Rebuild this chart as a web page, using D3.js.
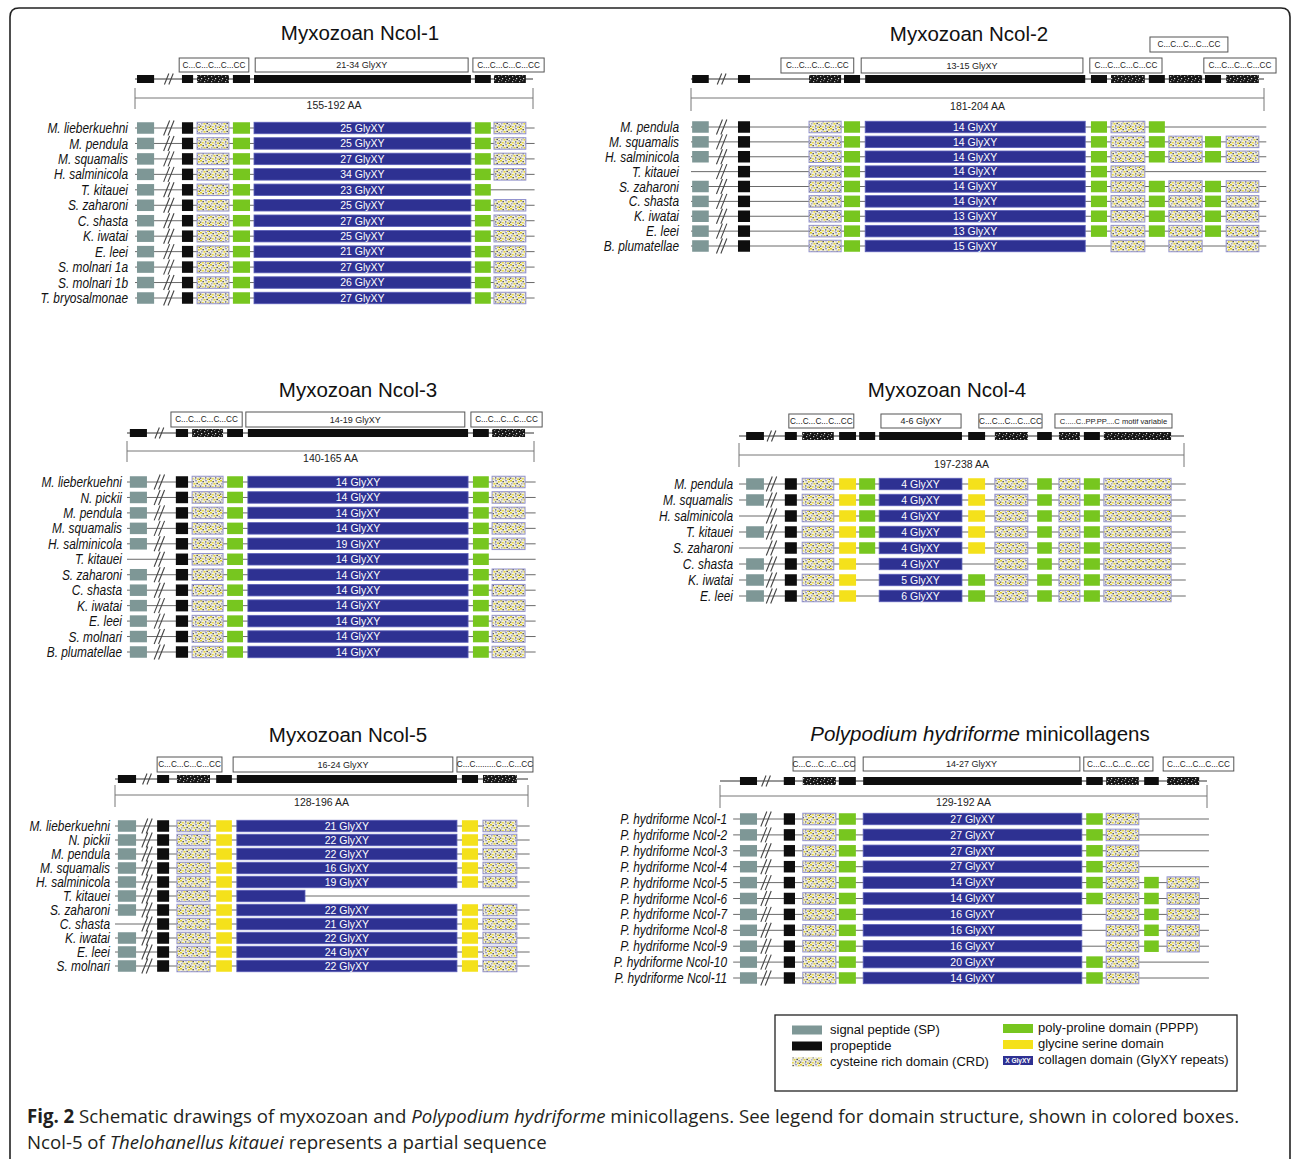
<!DOCTYPE html>
<html><head><meta charset="utf-8">
<script src="https://cdn.jsdelivr.net/npm/d3@7"></script>
<style>body{margin:0;background:#fff} svg{display:block}</style>
</head><body>
<svg id="c" width="1292" height="1159"></svg>
<script>
// ================= DATA =================
// Domain codes: S signal peptide, B sequence break (//), P propeptide, C cysteine rich domain,
// G poly-proline domain, Y glycine serine domain, X collagen domain (GlyXY), "." absent
// Domain bounds: relative position along the protein, in % of the full length

// ---- Myxozoan Ncol-1
const ncol1Title = "Myxozoan Ncol-1";
const ncol1Range = "155-192 AA";
const ncol1Species = ["M. lieberkuehni","M. pendula","M. squamalis","H. salminicola","T. kitauei","S. zaharoni","C. shasta","K. iwatai","E. leei","S. molnari 1a","S. molnari 1b","T. bryosalmonae"];
const ncol1GlyXY = [25,25,27,34,23,25,27,25,21,27,26,27];
const ncol1Domains = ["SBPCGXGC","SBPCGXGC","SBPCGXGC","SBPCGXGC","SBPCGXG.","SBPCGXGC","SBPCGXGC","SBPCGXGC","SBPCGXGC","SBPCGXGC","SBPCGXGC","SBPCGXGC"];
const ncol1Consensus = "SBPCGXGC";
const ncol1Bounds = [[0.5,4.8],[7.5,9.5],[11.8,14.6],[15.6,23.6],[24.6,28.9],[29.9,84.4],[85.4,89.4],[90.2,98.2]];
const ncol1BoxLabels = ["C...C...C...C...CC","21-34 GlyXY","C...C...C...C...CC"];
const ncol1Boxes = [[11.1,28.6,0],[30.2,83.7,0],[84.9,102.8,0]];

// ---- Myxozoan Ncol-2
const ncol2Title = "Myxozoan Ncol-2";
const ncol2Range = "181-204 AA";
const ncol2Species = ["M. pendula","M. squamalis","H. salminicola","T. kitauei","S. zaharoni","C. shasta","K. iwatai","E. leei","B. plumatellae"];
const ncol2GlyXY = [14,14,14,14,14,14,13,13,15];
const ncol2Domains = ["SBPCGXGCG...","SBPCGXGCGCGC","SBPCGXGCGCGC",".BPCGXGC....","SBPCGXGCGCGC","SBPCGXGCGCGC","SBPCGXGCGCGC","SBPCGXGCGCGC","SBPCGX.C.C.C"];
const ncol2Consensus = "SBPCGXGCGCGC";
const ncol2Bounds = [[0.2,3.1],[4.4,6.3],[8.2,10.3],[20.6,26.2],[26.7,29.5],[30.4,68.8],[69.8,72.6],[73.3,79.2],[79.9,82.7],[83.4,89.2],[89.7,92.5],[93.4,99.1]];
const ncol2BoxLabels = ["C...C...C...C...CC","13-15 GlyXY","C...C...C...C...CC","C...C...C...C...CC","C...C...C...C...CC"];
const ncol2Boxes = [[15.7,28.4,0],[29.7,68.4,0],[69.6,82.2,0],[80.1,93.7,1],[89.5,102.1,0]];

// ---- Myxozoan Ncol-3
const ncol3Title = "Myxozoan Ncol-3";
const ncol3Range = "140-165 AA";
const ncol3Species = ["M. lieberkuehni","N. pickii","M. pendula","M. squamalis","H. salminicola","T. kitauei","S. zaharoni","C. shasta","K. iwatai","E. leei","S. molnari","B. plumatellae"];
const ncol3GlyXY = [14,14,14,14,19,14,14,14,14,14,14,14];
const ncol3Domains = ["SBPCGXGC","SBPCGXGC","SBPCGXGC","SBPCGXGC","SBPCGXGC",".BPCGXG.","SBPCGXGC","SBPCGXGC","SBPCGXGC","SBPCGXGC","SBPCGXGC","SBPCGXGC"];
const ncol3Consensus = "SBPCGXGC";
const ncol3Bounds = [[0.7,4.9],[7.1,8.8],[12.0,15.0],[16.0,23.6],[24.6,28.5],[29.7,83.8],[85.0,88.9],[89.7,97.8]];
const ncol3BoxLabels = ["C...C...C...C...CC","14-19 GlyXY","C...C...C...C...CC"];
const ncol3Boxes = [[10.8,28.3,0],[29.2,83.0,0],[84.5,102.0,0]];

// ---- Myxozoan Ncol-4
const ncol4Title = "Myxozoan Ncol-4";
const ncol4Range = "197-238 AA";
const ncol4Species = ["M. pendula","M. squamalis","H. salminicola","T. kitauei","S. zaharoni","C. shasta","K. iwatai","E. leei"];
const ncol4GlyXY = [4,4,4,4,4,4,5,6];
const ncol4Domains = ["SBPCYGXYCGCGC","SBPCYGXYCGCGC",".BPCYGXYCGCGC","SBPCYGXYCGCGC",".BPCYGXYCGCGC","SBPCY.X.CGCGC","SBPCY.XGCGCGC","SBPCY.XGCGCGC"];
const ncol4Consensus = "SBPCYGXYCGCGC";
const ncol4Bounds = [[1.6,5.6],[6.5,8.1],[10.3,13.0],[14.2,21.3],[22.5,26.3],[27.0,30.6],[31.5,50.1],[51.5,55.3],[57.5,64.9],[67.0,70.3],[71.9,76.6],[77.5,81.1],[82.0,97.1]];
const ncol4BoxLabels = ["C...C...C...C...CC","4-6 GlyXY","C...C...C...C...CC","C.....C..PP.PP....C motif variable"];
const ncol4Boxes = [[11.2,25.8,0],[31.9,49.9,0],[53.9,68.1,0],[71.0,97.3,0]];

// ---- Myxozoan Ncol-5
const ncol5Title = "Myxozoan Ncol-5";
const ncol5Range = "128-196 AA";
const ncol5Species = ["M. lieberkuehni","N. pickii","M. pendula","M. squamalis","H. salminicola","T. kitauei","S. zaharoni","C. shasta","K. iwatai","E. leei","S. molnari"];
const ncol5GlyXY = [21,22,22,16,19,null,22,21,22,24,22];
const ncol5Domains = ["SBPCYX.YC","SBPCYX.YC","SBPCYX.YC","SBPCYX.YC","SBPCYX.YC","SBPCY.X..","SBPCYX.YC",".BPCYX.YC","SBPCYX.YC","SBPCYX.YC","SBPCYX.YC"];
const ncol5Consensus = "SBPCYX.YC";
const ncol5Bounds = [[0.7,5.1],[6.8,8.7],[10.2,13.1],[15.0,23.0],[24.5,28.3],[29.5,82.8],[29.5,46.0],[84.0,87.9],[89.1,97.3]];
const ncol5BoxLabels = ["C...C...C...C...CC","16-24 GlyXY","C...C.........C...C...CC"];
const ncol5Boxes = [[10.2,25.9,0],[28.6,81.8,0],[82.8,101.2,0]];

// ---- Polypodium hydriforme minicollagens
const phyTitle = ["Polypodium hydriforme"," minicollagens"];
const phyRange = "129-192 AA";
const phySpecies = ["P. hydriforme Ncol-1","P. hydriforme Ncol-2","P. hydriforme Ncol-3","P. hydriforme Ncol-4","P. hydriforme Ncol-5","P. hydriforme Ncol-6","P. hydriforme Ncol-7","P. hydriforme Ncol-8","P. hydriforme Ncol-9","P. hydriforme Ncol-10","P. hydriforme Ncol-11"];
const phyGlyXY = [27,27,27,27,14,14,16,16,16,20,14];
const phyDomains = ["SBPCGXGC..","SBPCGXGC..","SBPCGXGC..","SBPCGXGC..","SBPCGXGCGC","SBPCGXGCGC","SBPCGX.CGC","SBPCGX.CGC","SBPCGX.CGC","SBPCGXGC..","SBPCGXGC.."];
const phyConsensus = "SBPCGXGCGC";
const phyBounds = [[4.1,7.6],[8.8,10.1],[13.1,15.4],[17.0,23.8],[24.4,27.9],[29.4,74.3],[75.2,78.6],[79.3,86.0],[87.1,90.1],[91.8,98.4]];
const phyBoxLabels = ["C...C...C...C...CC","14-27 GlyXY","C...C...C...C...CC","C...C...C...C...CC"];
const phyBoxes = [[15.0,27.7,0],[29.4,73.9,0],[74.7,88.9,0],[91.0,105.5,0]];

// ---- Legend
const legendLabels = ["signal peptide (SP)","propeptide","cysteine rich domain (CRD)","poly-proline domain (PPPP)","glycine serine domain","collagen domain (GlyXY repeats)"];
const legendCodes = ["S","P","C","G","Y","X"];

// ---- Caption
const captionLine1 = [["Fig. 2","bold"],[" Schematic drawings of myxozoan and ","normal"],["Polypodium hydriforme","italic"],[" minicollagens. See legend for domain structure, shown in colored boxes.","normal"]];
const captionLine2 = [["Ncol-5 of ","normal"],["Thelohanellus kitauei","italic"],[" represents a partial sequence","normal"]];

// ================= STYLE / LAYOUT =================
const COLORS = {S:"#7e9796", P:"#0e0e0e", G:"#77c61f", Y:"#f4e11b", X:"#2e3192"};
const FONT = "'Liberation Sans', Arial, sans-serif";

const layouts = [
  {x0:135,x1:533,titleX:360,titleY:33,boxY:[58,0],boxH:14,consY:79,barY:98,tickT:88,tickB:109,labelY:105,rowY0:128,rowY1:298,nameX:128,lineStart:0},
  {x0:691,x1:1264,titleX:969,titleY:34,boxY:[58,37],boxH:15,consY:79,barY:98,tickT:88,tickB:111,labelY:106,rowY0:127,rowY1:246,nameX:679,lineStart:0},
  {x0:127,x1:534,titleX:358,titleY:390,boxY:[412,0],boxH:15,consY:433,barY:451,tickT:441,tickB:462,labelY:458,rowY0:482,rowY1:652,nameX:122,lineStart:0},
  {x0:739,x1:1184,titleX:947,titleY:390,boxY:[414,0],boxH:14,consY:436,barY:455,tickT:443,tickB:467,labelY:464,rowY0:484,rowY1:596,nameX:733,lineStart:0},
  {x0:115,x1:528,titleX:348,titleY:735,boxY:[757,0],boxH:15,consY:779,barY:795,tickT:785,tickB:807,labelY:802,rowY0:826,rowY1:966,nameX:110,lineStart:0},
  {x0:720,x1:1207,titleX:980,titleY:734,boxY:[757,0],boxH:14,consY:781,barY:796,tickT:785,tickB:808,labelY:802,rowY0:819,rowY1:978,nameX:727,lineStart:2.7}
];

const panels = [
  {title:[ncol1Title], range:ncol1Range, species:ncol1Species, glyxy:ncol1GlyXY, domains:ncol1Domains, consensus:ncol1Consensus, bounds:ncol1Bounds, boxLabels:ncol1BoxLabels, boxes:ncol1Boxes},
  {title:[ncol2Title], range:ncol2Range, species:ncol2Species, glyxy:ncol2GlyXY, domains:ncol2Domains, consensus:ncol2Consensus, bounds:ncol2Bounds, boxLabels:ncol2BoxLabels, boxes:ncol2Boxes},
  {title:[ncol3Title], range:ncol3Range, species:ncol3Species, glyxy:ncol3GlyXY, domains:ncol3Domains, consensus:ncol3Consensus, bounds:ncol3Bounds, boxLabels:ncol3BoxLabels, boxes:ncol3Boxes},
  {title:[ncol4Title], range:ncol4Range, species:ncol4Species, glyxy:ncol4GlyXY, domains:ncol4Domains, consensus:ncol4Consensus, bounds:ncol4Bounds, boxLabels:ncol4BoxLabels, boxes:ncol4Boxes},
  {title:[ncol5Title], range:ncol5Range, species:ncol5Species, glyxy:ncol5GlyXY, domains:ncol5Domains, consensus:ncol5Consensus, bounds:ncol5Bounds, boxLabels:ncol5BoxLabels, boxes:ncol5Boxes},
  {title:phyTitle, italicFirst:true, range:phyRange, species:phySpecies, glyxy:phyGlyXY, domains:phyDomains, consensus:phyConsensus, bounds:phyBounds, boxLabels:phyBoxLabels, boxes:phyBoxes}
];

// ================= DRAW =================
const svg = d3.select("#c");
svg.append("rect").attr("width",1292).attr("height",1159).attr("fill","#fff");
const defs = svg.append("defs");

// CRD speckle texture
const crd = defs.append("pattern").attr("id","crd").attr("patternUnits","userSpaceOnUse").attr("width",10).attr("height",8);
crd.append("rect").attr("width",10).attr("height",8).attr("fill","#f1efdc");
[[0,0,"#e0cc2a",2,1.5],[2.5,1,"#3c3c3c",1.3,1.3],[5,0,"#9d9dc0",2,1.3],[8,1,"#e3d23a",1.6,1.6],
 [1,3,"#a8a8c2",1.5,1.5],[3.5,3,"#e4d440",2,1.6],[6.5,2.8,"#2f2f2f",1.3,1.3],[8.5,4,"#8f8fb3",1.4,1.4],
 [0,5.5,"#555",1.3,1.3],[2,6,"#e8d94e",1.8,1.5],[5,5.2,"#6a6a84",1.4,1.4],[7,6.5,"#dccb2e",2,1.3],
 [4.5,7,"#b4b4cc",1.2,1],[9,6.8,"#3d3d3d",1,1]]
  .forEach(d => crd.append("rect").attr("x",d[0]).attr("y",d[1]).attr("width",d[3]).attr("height",d[4]).attr("fill",d[2]));
// dark CRD texture (consensus)
const dk = defs.append("pattern").attr("id","crdDark").attr("patternUnits","userSpaceOnUse").attr("width",7).attr("height",5);
dk.append("rect").attr("width",7).attr("height",5).attr("fill","#161616");
[[1,1,"#bbb"],[4,0,"#777"],[5,3,"#ddd"],[2,4,"#888"]]
  .forEach(d => dk.append("rect").attr("x",d[0]).attr("y",d[1]).attr("width",1.2).attr("height",1.2).attr("fill",d[2]));

// frame
svg.append("path")
  .attr("d","M10,1159 L10,17 Q10,8 19,8 L1281,8 Q1290,8 1290,17 L1290,1159")
  .attr("fill","none").attr("stroke","#222").attr("stroke-width",1.6);

function drawBreak(g, cx, cy, h) {
  [-2.2, 2.2].forEach(off => {
    g.append("line")
      .attr("x1", cx + off - h*0.2).attr("y1", cy + h/2)
      .attr("x2", cx + off + h*0.2).attr("y2", cy - h/2)
      .attr("stroke","#444").attr("stroke-width",1.1);
  });
}

function drawDomain(g, code, xa, xb, cy, h, consensus) {
  if (code === ".") return;
  if (code === "B") { drawBreak(g, (xa+xb)/2, cy, consensus ? 11 : 15); return; }
  const r = g.append("rect").attr("x",xa).attr("y",cy-h/2).attr("width",xb-xa).attr("height",h);
  if (consensus) {
    r.attr("fill", code === "C" ? "url(#crdDark)" : "#0e0e0e");
  } else if (code === "C") {
    r.attr("fill","url(#crd)").attr("stroke","#9393cf").attr("stroke-width",1);
  } else if (code === "X") {
    r.attr("fill",COLORS.X).attr("stroke","#5b5fb8").attr("stroke-width",0.8);
  } else {
    r.attr("fill",COLORS[code]);
  }
}

panels.forEach((p, pi) => {
  const L = layouts[pi];
  const g = svg.append("g");
  const x = d3.scaleLinear().domain([0,100]).range([L.x0, L.x1]);
  const y = d3.scalePoint().domain(d3.range(p.species.length)).range([L.rowY0, L.rowY1]);

  // title
  const t = g.append("text").attr("x",L.titleX).attr("y",L.titleY).attr("dy","0.36em")
    .attr("text-anchor","middle").attr("font-family",FONT).attr("font-size",20.5).attr("fill","#111");
  p.title.forEach((s,i) => t.append("tspan").text(s).attr("font-style", (p.italicFirst && i===0) ? "italic" : "normal"));

  // header boxes
  p.boxes.forEach((b,i) => {
    const by = L.boxY[b[2]];
    g.append("rect").attr("x",x(b[0])).attr("y",by).attr("width",x(b[1])-x(b[0])).attr("height",L.boxH)
      .attr("fill","#fff").attr("stroke","#555").attr("stroke-width",1);
    const lbl = p.boxLabels[i];
    g.append("text").attr("x",(x(b[0])+x(b[1]))/2).attr("y",by+L.boxH/2).attr("dy","0.35em")
      .attr("text-anchor","middle").attr("font-family",FONT)
      .attr("font-size", lbl.includes("GlyXY") ? 9 : (lbl.length > 24 ? 7.6 : 8.2)).attr("fill","#222").text(lbl);
  });

  // consensus schematic
  g.append("line").attr("x1",x(0)).attr("x2",x(100)).attr("y1",L.consY).attr("y2",L.consY).attr("stroke","#333").attr("stroke-width",1);
  p.consensus.split("").forEach((c,i) => drawDomain(g, c, x(p.bounds[i][0]), x(p.bounds[i][1]), L.consY, 8, true));

  // length bar
  g.append("line").attr("x1",x(0)).attr("x2",x(100)).attr("y1",L.barY).attr("y2",L.barY).attr("stroke","#777").attr("stroke-width",1);
  [0,100].forEach(v => g.append("line").attr("x1",x(v)).attr("x2",x(v)).attr("y1",L.tickT).attr("y2",L.tickB).attr("stroke","#777").attr("stroke-width",1));
  g.append("text").attr("x",(x(0)+x(100))/2).attr("y",L.labelY).attr("dy","0.35em").attr("text-anchor","middle")
    .attr("font-family",FONT).attr("font-size",10.5).attr("fill","#222").text(p.range);

  // rows
  p.species.forEach((name, ri) => {
    const cy = y(ri);
    g.append("line").attr("x1",x(L.lineStart)).attr("x2",x(100.4)).attr("y1",cy).attr("y2",cy).attr("stroke","#6a6a6a").attr("stroke-width",1);
    g.append("text").attr("transform",`translate(${L.nameX},${cy}) scale(0.82,1)`).attr("dy","0.35em")
      .attr("text-anchor","end").attr("font-family",FONT).attr("font-style","italic").attr("font-size",14.5).attr("fill","#111").text(name);
    const codes = p.domains[ri].split("");
    codes.forEach((c,i) => { if (c !== "B") drawDomain(g, c, x(p.bounds[i][0]), x(p.bounds[i][1]), cy, 11.5, false); });
    codes.forEach((c,i) => { if (c === "B") drawDomain(g, c, x(p.bounds[i][0]), x(p.bounds[i][1]), cy, 11.5, false); });
    const xi = codes.indexOf("X");
    if (xi >= 0 && p.glyxy[ri] != null) {
      g.append("text").attr("x",(x(p.bounds[xi][0])+x(p.bounds[xi][1]))/2).attr("y",cy).attr("dy","0.36em")
        .attr("text-anchor","middle").attr("font-family",FONT).attr("font-size",10.5).attr("fill","#fff")
        .text(p.glyxy[ri] + " GlyXY");
    }
  });
});

// legend
const lg = svg.append("g");
lg.append("rect").attr("x",775).attr("y",1015).attr("width",462).attr("height",76).attr("fill","#fff").attr("stroke","#222").attr("stroke-width",1.3);
const legCol = d3.scalePoint().domain([0,1]).range([792,1003]);
const legRow = d3.scalePoint().domain([0,1,2]).range([1030,1062]);
legendLabels.forEach((lab,i) => {
  const col = Math.floor(i/3), row = i%3;
  const sx = legCol(col), cy = legRow(row) - (col===1 ? 1.5 : 0);
  const code = legendCodes[i];
  const r = lg.append("rect").attr("x",sx).attr("y",cy-4.5).attr("width",30).attr("height",9);
  if (code === "C") r.attr("fill","url(#crd)");
  else r.attr("fill",COLORS[code]);
  if (code === "X") {
    lg.append("text").attr("x",sx+15).attr("y",cy).attr("dy","0.35em").attr("text-anchor","middle")
      .attr("font-family",FONT).attr("font-weight","bold").attr("font-size",6.5).attr("fill","#fff").text("X GlyXY");
  }
  lg.append("text").attr("x",sx+(col===0?38:35)).attr("y",cy-1).attr("dy","0.35em").attr("font-family",FONT)
    .attr("font-size",13).attr("fill","#111").text(lab);
});

// caption
const capFont = "'Open Sans', 'Noto Sans', sans-serif";
function capLine(parts, yy) {
  const t = svg.append("text").attr("x",0).attr("y",0).attr("font-family",capFont).attr("font-size",19).attr("fill","#231f20");
  parts.forEach(pt => {
    const ts = t.append("tspan").text(pt[0]);
    if (pt[1] === "bold") ts.attr("font-weight","bold");
    if (pt[1] === "italic") ts.attr("font-style","italic");
  });
  return {t, yy};
}
const c1 = capLine(captionLine1, 1123), c2 = capLine(captionLine2, 1149);
const w1 = c1.t.node().getComputedTextLength();
const sx = 1213 / w1;
[c1,c2].forEach(c => c.t.attr("transform",`translate(27,${c.yy}) scale(${sx},1)`));
</script>
</body></html>
